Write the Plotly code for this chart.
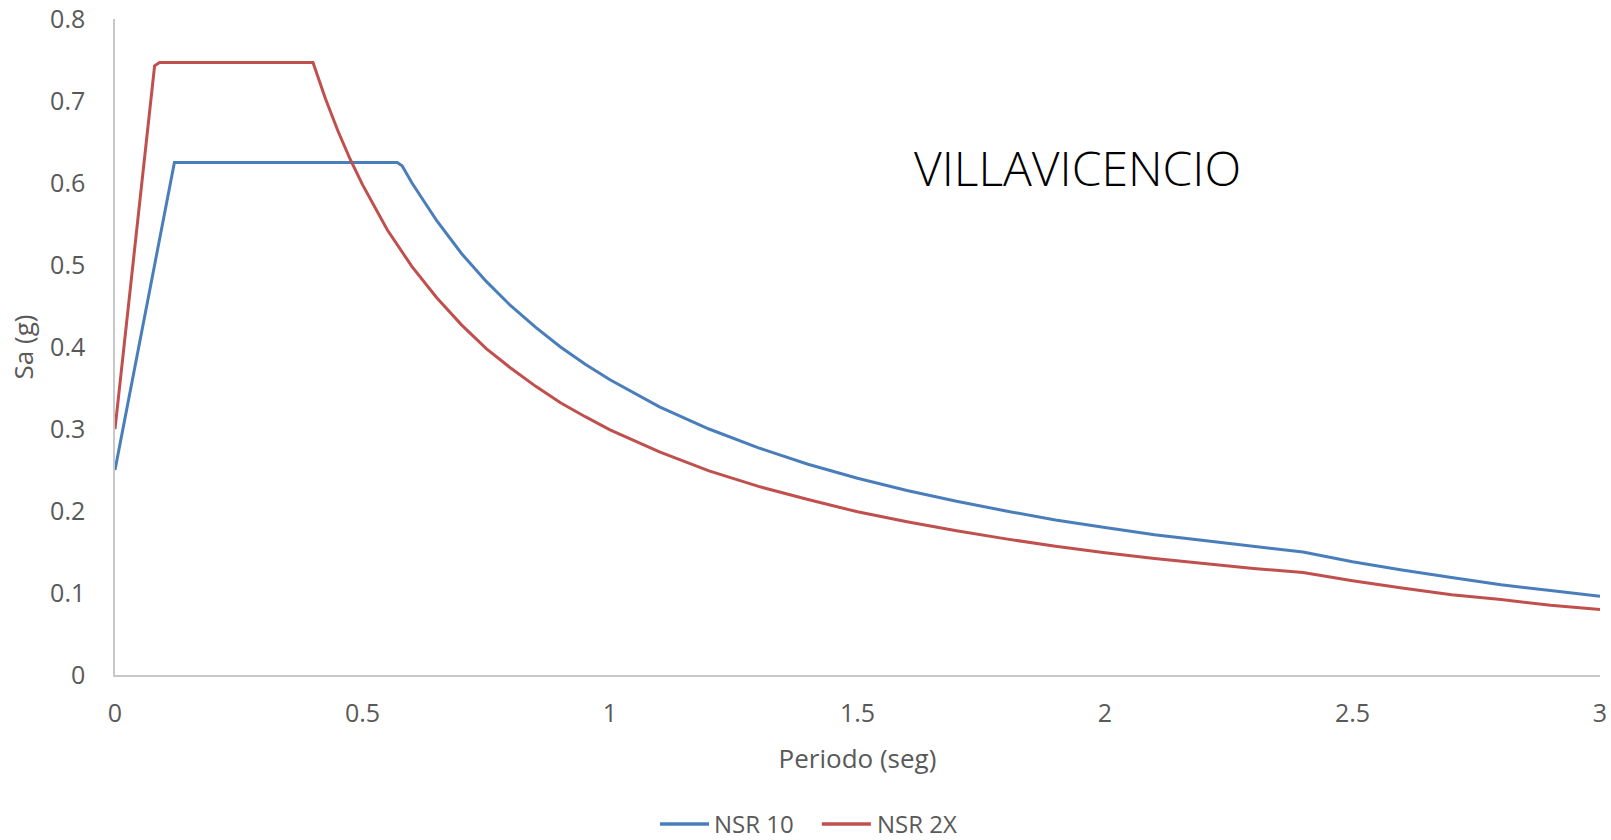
import plotly.graph_objects as go

# Espectro de diseño NSR-10 (Villavicencio)
periodo_nsr10 = [0.0, 0.12, 0.57, 0.58, 0.6, 0.65, 0.7, 0.75, 0.8, 0.85, 0.9, 0.95, 1.0,
                 1.1, 1.2, 1.3, 1.4, 1.5, 1.6, 1.7, 1.8, 1.9, 2.0, 2.1, 2.2, 2.3, 2.4,
                 2.5, 2.6, 2.7, 2.8, 2.9, 3.0]
sa_nsr10 = [0.25, 0.625, 0.625, 0.621, 0.600, 0.554, 0.514, 0.480, 0.450, 0.424, 0.400,
            0.379, 0.360, 0.327, 0.300, 0.277, 0.257, 0.240, 0.225, 0.212, 0.200, 0.189,
            0.180, 0.171, 0.164, 0.157, 0.150, 0.138, 0.128, 0.119, 0.110, 0.103, 0.096]

# Espectro propuesto NSR-2X
periodo_nsr2x = [0.0, 0.08, 0.09, 0.4, 0.425, 0.45, 0.475, 0.5, 0.55, 0.6, 0.65, 0.7,
                 0.75, 0.8, 0.85, 0.9, 0.95, 1.0, 1.1, 1.2, 1.3, 1.4, 1.5, 1.6, 1.7,
                 1.8, 1.9, 2.0, 2.1, 2.2, 2.3, 2.4, 2.5, 2.6, 2.7, 2.8, 2.9, 3.0]
sa_nsr2x = [0.30, 0.743, 0.747, 0.747, 0.703, 0.664, 0.629, 0.598, 0.543, 0.498, 0.460,
            0.427, 0.398, 0.374, 0.352, 0.332, 0.315, 0.299, 0.272, 0.249, 0.230, 0.214,
            0.199, 0.187, 0.176, 0.166, 0.157, 0.149, 0.142, 0.136, 0.130, 0.125, 0.115,
            0.106, 0.098, 0.092, 0.085, 0.080]

series_names = ["NSR 10", "NSR 2X"]
series_colors = ["#4a7ebb", "#c0504d"]

x_ticks = [0, 0.5, 1, 1.5, 2, 2.5, 3]
x_tick_text = ["0", "0.5", "1", "1.5", "2", "2.5", "3"]
y_ticks = [0, 0.1, 0.2, 0.3, 0.4, 0.5, 0.6, 0.7, 0.8]
y_tick_text = ["0", "0.1", "0.2", "0.3", "0.4", "0.5", "0.6", "0.7", "0.8"]

FONT = "Open Sans"
GRIS = "#595959"
EJE = "#c8c8c8"

fig = go.Figure()
for xs, ys, name, color in [(periodo_nsr10, sa_nsr10, series_names[0], series_colors[0]),
                            (periodo_nsr2x, sa_nsr2x, series_names[1], series_colors[1])]:
    fig.add_trace(go.Scatter(x=xs, y=ys, mode="lines", name=name,
                             line=dict(color=color, width=3), showlegend=False))

# Leyenda inferior centrada (muestras de línea + texto)
legend_y = -0.227
legend_items = [(0.367, 0.400, 0.402), (0.476, 0.509, 0.5115)]
shapes = []
annotations = []
for (x0, x1, xt), name, color in zip(legend_items, series_names, series_colors):
    shapes.append(dict(type="line", xref="paper", yref="paper", x0=x0, x1=x1,
                       y0=legend_y, y1=legend_y, line=dict(color=color, width=3.5)))
    annotations.append(dict(text=name, xref="paper", yref="paper", x=xt, y=legend_y,
                            xanchor="left", yanchor="middle", showarrow=False,
                            font=dict(family=FONT, size=24, color=GRIS)))

annotations.append(dict(text="VILLAVICENCIO", x=1.945, y=0.6195, xref="x", yref="y",
                        showarrow=False, xanchor="center", yanchor="middle",
                        font=dict(family=FONT, size=48, color="#000000", weight=300)))

fig.update_layout(
    width=1611, height=840,
    margin=dict(l=115, r=11, t=19, b=165, autoexpand=False),
    paper_bgcolor="white", plot_bgcolor="white",
    font=dict(family=FONT, color=GRIS, size=25),
    showlegend=False,
    shapes=shapes,
    annotations=annotations,
)
fig.update_xaxes(range=[0, 3], tickvals=x_ticks, ticktext=x_tick_text,
                 showgrid=False, zeroline=False, showline=True, linecolor=EJE, linewidth=1.5,
                 ticks="", ticklabelstandoff=15, automargin=False,
                 tickfont=dict(size=25, color=GRIS),
                 title=dict(text="Periodo (seg)", standoff=22, font=dict(size=26, color=GRIS)))
fig.update_yaxes(range=[0, 0.8], tickvals=y_ticks, ticktext=y_tick_text,
                 showgrid=False, zeroline=False, showline=True, linecolor=EJE, linewidth=1.5,
                 ticks="", ticklabelstandoff=23, automargin=False,
                 tickfont=dict(size=25, color=GRIS),
                 title=dict(text="Sa (g)", standoff=9, font=dict(size=26, color=GRIS)))

fig.write_html("out.html")
